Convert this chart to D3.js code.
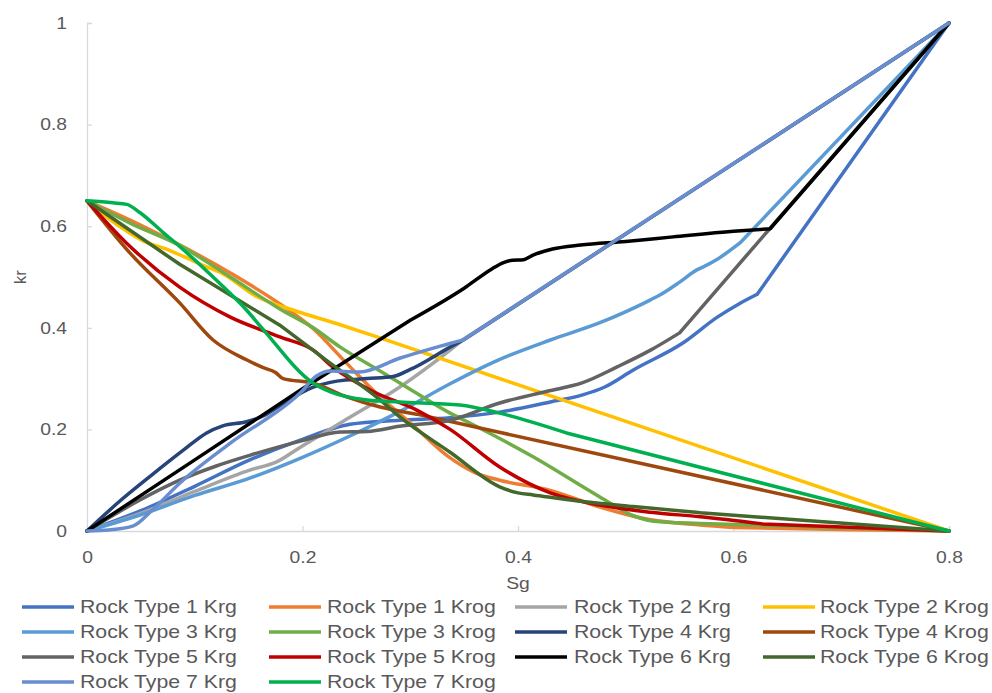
<!DOCTYPE html>
<html><head><meta charset="utf-8">
<script src="https://cdn.jsdelivr.net/npm/d3@7"></script>
<style>body{margin:0;background:#fff;}svg{display:block;font-family:"Liberation Sans",Arial,sans-serif;}</style>
</head><body><svg id="c" width="992" height="693"></svg>
<script>
const seriesNames = ["Rock Type 1 Krg","Rock Type 1 Krog","Rock Type 2 Krg","Rock Type 2 Krog","Rock Type 3 Krg","Rock Type 3 Krog","Rock Type 4 Krg","Rock Type 4 Krog","Rock Type 5 Krg","Rock Type 5 Krog","Rock Type 6 Krg","Rock Type 6 Krog","Rock Type 7 Krg","Rock Type 7 Krog"];
const seriesColors = ["#4472C4","#ED7D31","#A5A5A5","#FFC000","#5B9BD5","#70AD47","#264478","#9E480E","#636363","#C00000","#000000","#43682B","#698ED0","#00B050"];
const xTicks = [0,0.2,0.4,0.6,0.8];
const yTicks = [0,0.2,0.4,0.6,0.8,1];

const rt1Krg = [[0,0],[0.05,0.04],[0.1,0.088],[0.151,0.14],[0.198,0.179],[0.244,0.21],[0.29,0.218],[0.337,0.223],[0.383,0.234],[0.43,0.254],[0.46,0.268],[0.48,0.283],[0.507,0.317],[0.553,0.37],[0.585,0.421],[0.605,0.447],[0.622,0.466],[0.8,1]];
const rt1Krog = [[0,0.65],[0.04,0.612],[0.077,0.573],[0.133,0.508],[0.179,0.447],[0.21,0.398],[0.241,0.33],[0.272,0.264],[0.3,0.213],[0.337,0.144],[0.36,0.115],[0.383,0.1],[0.43,0.08],[0.476,0.047],[0.523,0.022],[0.569,0.012],[0.6,0.007],[0.7,0.003],[0.8,0]];
const rt2Krg = [[0,0],[0.05,0.035],[0.1,0.078],[0.151,0.12],[0.176,0.136],[0.198,0.165],[0.244,0.224],[0.29,0.283],[0.337,0.356],[0.35,0.378],[0.8,1]];
const rt2Krog = [[0,0.65],[0.03,0.6],[0.056,0.567],[0.071,0.557],[0.09,0.54],[0.111,0.52],[0.123,0.51],[0.158,0.461],[0.191,0.435],[0.235,0.406],[0.272,0.38],[0.8,0]];
const rt3Krg = [[0,0],[0.05,0.032],[0.1,0.07],[0.151,0.104],[0.2,0.145],[0.244,0.187],[0.29,0.235],[0.337,0.29],[0.38,0.335],[0.43,0.376],[0.476,0.41],[0.523,0.455],[0.532,0.465],[0.55,0.49],[0.566,0.514],[0.572,0.52],[0.585,0.535],[0.606,0.567],[0.8,1]];
const rt3Krog = [[0,0.65],[0.04,0.606],[0.086,0.562],[0.133,0.5],[0.179,0.437],[0.21,0.4],[0.235,0.362],[0.272,0.315],[0.29,0.292],[0.337,0.232],[0.353,0.215],[0.414,0.146],[0.476,0.067],[0.507,0.03],[0.532,0.018],[0.569,0.015],[0.8,0]];
const rt4Krg = [[0,0],[0.03,0.058],[0.06,0.11],[0.09,0.16],[0.111,0.193],[0.126,0.207],[0.148,0.215],[0.165,0.228],[0.18,0.248],[0.21,0.283],[0.232,0.295],[0.26,0.3],[0.284,0.304],[0.3,0.318],[0.337,0.362],[0.35,0.377],[0.8,1]];
const rt4Krog = [[0,0.65],[0.04,0.547],[0.086,0.449],[0.117,0.376],[0.148,0.337],[0.163,0.322],[0.175,0.312],[0.182,0.3],[0.21,0.291],[0.241,0.264],[0.272,0.244],[0.306,0.23],[0.8,0]];
const rt5Krg = [[0,0],[0.05,0.062],[0.086,0.1],[0.12,0.128],[0.151,0.149],[0.2,0.178],[0.235,0.195],[0.26,0.196],[0.29,0.206],[0.337,0.218],[0.383,0.252],[0.427,0.275],[0.46,0.292],[0.492,0.323],[0.523,0.356],[0.55,0.39],[0.634,0.596],[0.8,1]];
const rt5Krog = [[0,0.65],[0.04,0.56],[0.086,0.48],[0.133,0.421],[0.179,0.382],[0.21,0.356],[0.228,0.323],[0.265,0.275],[0.306,0.238],[0.337,0.2],[0.383,0.126],[0.43,0.075],[0.476,0.051],[0.523,0.037],[0.569,0.028],[0.627,0.014],[0.8,0]];
const rt6Krg = [[0,0],[0.1,0.14],[0.2,0.28],[0.3,0.415],[0.35,0.478],[0.375,0.515],[0.386,0.528],[0.395,0.533],[0.405,0.534],[0.414,0.543],[0.432,0.555],[0.458,0.563],[0.5,0.57],[0.544,0.579],[0.6,0.59],[0.634,0.595],[0.8,1]];
const rt6Krog = [[0,0.65],[0.086,0.525],[0.179,0.405],[0.226,0.33],[0.272,0.258],[0.29,0.225],[0.337,0.155],[0.383,0.087],[0.4,0.075],[0.414,0.071],[0.46,0.058],[0.507,0.048],[0.569,0.036],[0.8,0]];
const rt7Krg = [[0,0],[0.02,0.002],[0.043,0.01],[0.06,0.04],[0.086,0.094],[0.133,0.173],[0.198,0.272],[0.213,0.305],[0.226,0.315],[0.253,0.313],[0.29,0.34],[0.328,0.364],[0.349,0.376],[0.8,1]];
const rt7Krog = [[0,0.65],[0.024,0.646],[0.037,0.643],[0.049,0.627],[0.071,0.587],[0.086,0.56],[0.117,0.5],[0.148,0.435],[0.163,0.398],[0.21,0.291],[0.226,0.274],[0.26,0.258],[0.29,0.254],[0.346,0.248],[0.383,0.232],[0.445,0.193],[0.8,0]];

const seriesData = [rt1Krg,rt1Krog,rt2Krg,rt2Krog,rt3Krg,rt3Krog,rt4Krg,rt4Krog,rt5Krg,rt5Krog,rt6Krg,rt6Krog,rt7Krg,rt7Krog];

(function(){
const svg = d3.select("#c");
const pl = 87, pr = 949, pt = 23, pb = 531;
const x = d3.scaleLinear().domain([0,0.8]).range([pl,pr]);
const y = d3.scaleLinear().domain([0,1]).range([pb,pt]);
const axisColor = "#D9D9D9", textColor = "#595959";
const stretch = (sel, f) => sel.each(function(){
  const w = this.getComputedTextLength();
  d3.select(this).attr("textLength", w*f).attr("lengthAdjust","spacingAndGlyphs");
});

const xa = svg.append("g").attr("transform",`translate(0,${pb})`)
  .call(d3.axisBottom(x).tickValues(xTicks).tickSize(-5).tickPadding(20).tickFormat(d=>d3.format("")(d)));
const ya = svg.append("g").attr("transform",`translate(${pl},0)`)
  .call(d3.axisLeft(y).tickValues(yTicks).tickSize(-5).tickPadding(20).tickFormat(d=>d3.format("")(d)));
[xa,ya].forEach(g=>{
  g.select(".domain").attr("stroke",axisColor).attr("stroke-width",1.3);
  g.selectAll(".tick line").attr("stroke",axisColor).attr("stroke-width",1.3);
  g.selectAll(".tick text").attr("fill",textColor).attr("font-size",16.5).attr("font-family","Liberation Sans, Arial, sans-serif")
    .call(stretch, 1.17);
});

svg.append("text").attr("x",(pl+pr)/2).attr("y",589).attr("text-anchor","middle")
  .attr("fill",textColor).attr("font-size",16.5).text("Sg").call(stretch,1.17);
svg.append("text").attr("transform","translate(26,277) rotate(-90)").attr("text-anchor","middle")
  .attr("fill",textColor).attr("font-size",16.5).text("kr");

// smooth through closely spaced points, straight over long spans
const smooth = d3.line().x(d=>x(d[0])).y(d=>y(d[1])).curve(d3.curveMonotoneX);
const straight = d3.line().x(d=>x(d[0])).y(d=>y(d[1]));
function pathFor(s){
  let d = "", run = [s[0]];
  const flush = () => { if (run.length > 1) d += smooth(run); };
  for (let k = 1; k < s.length; k++){
    if (s[k][0] - s[k-1][0] > 0.08){
      flush();
      d += straight([s[k-1], s[k]]);
      run = [s[k]];
    } else run.push(s[k]);
  }
  flush();
  return d;
}
seriesData.forEach((s,i)=>{
  svg.append("path").attr("d",pathFor(s)).attr("fill","none")
    .attr("stroke",seriesColors[i]).attr("stroke-width",3.5)
    .attr("stroke-linejoin","round").attr("stroke-linecap","round");
});

const colX = [22,269,515,763];
const textX = [80,327,574,820];
const rowY = [607,632,657,682];
seriesNames.forEach((n,i)=>{
  const c = i%4, cy = rowY[Math.floor(i/4)];
  svg.append("line").attr("x1",colX[c]).attr("x2",colX[c]+52).attr("y1",cy).attr("y2",cy)
    .attr("stroke",seriesColors[i]).attr("stroke-width",3.5);
  svg.append("text").attr("x",textX[c]).attr("y",cy).attr("dy","0.35em")
    .attr("fill",textColor).attr("font-size",18.5).text(n).call(stretch,1.15);
});
})();
</script></body></html>
